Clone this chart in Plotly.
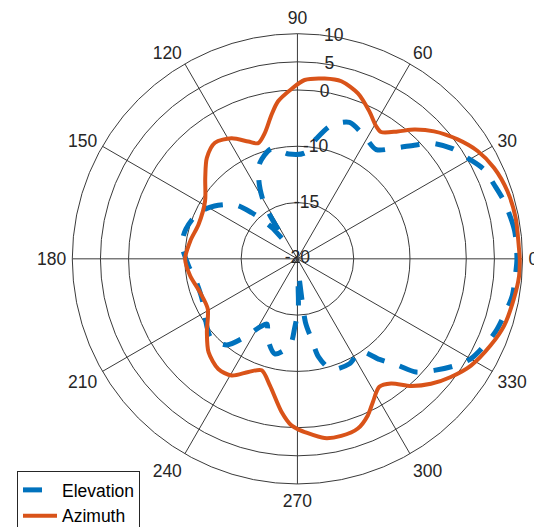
import plotly.graph_objects as go

# Elevation (blue dashed) : angle in degrees, value on the radial axis
elev_theta = [0, 7.5, 15.6, 20.7, 25.6, 30.7, 35.4, 40.9, 44.2, 48.8, 54.2, 61.3, 69.1, 75.8,
              81, 86, 94.7, 103.2, 111.4, 116.2, 120.6, 122.4, 125.5, 129, 132, 134.8, 138.9,
              147.5, 155, 165.1, 172.8, 183.7, 192.2, 203.8, 212.3, 222.6, 230.6, 236.3, 241.6,
              245, 249.4, 256.6, 265, 267.8, 271, 271.5, 274, 277.2, 280.2, 282.2, 287, 296.4,
              304.2, 309.2, 313.3, 316.3, 320.8, 325.5, 330, 335.4, 339.9, 344.6, 350.3, 356, 360]
elev_r = [9.0, 8.9, 8.1, 7.35, 6.76, 5.13, 3.8, 1.4, -1.04, -3.84, -6.07, -5.19, -4.05, -5.54,
          -8.37, -11.13, -11.3, -9.88, -11.7, -14.48, -18.07, -21.19, -26.0, -23.0, -20.5, -18.44, -15.45,
          -12.53, -10.6, -9.49, -9.31, -10.62, -11.54, -11.56, -10.58, -9.15, -10.21, -13.42, -16.32,
          -17.2, -14.94, -12.65, -14.55, -17.84, -21.38, -25.2, -27.0, -18.64, -15.26, -12.12, -9.45, -9.19,
          -10.09, -6.94, -4.0, -0.87, 1.36, 3.65, 5.54, 6.67, 7.52, 8.05, 8.73, 8.85, 9.0]

# Azimuth (orange solid)
azim_theta = [0, 2.9, 10.7, 17.9, 24.8, 30.9, 36.7, 43.0, 47.9, 51.8, 56.6, 59.3, 64.0, 69.9,
              76.1, 81.4, 87.7, 92.0, 97.0, 100.2, 104.5, 108.7, 112.7, 118.7, 125.4, 131.9, 138.7,
              148, 160.7, 170.5, 180, 189, 199, 209.2, 219, 226.4, 234.3, 240.6, 246.6, 252.2,
              257.7, 264.1, 267.9, 270.8, 272.4, 278.6, 283.9, 289.6, 294.2, 297.8, 302.6, 306.9,
              311.8, 316.9, 322.4, 328.4, 335.8, 342.1, 349.5, 355.6, 360]
azim_r = [9.5, 9.4, 9.45, 9.2, 8.5, 7.3, 5.5, 3.2, 0.95, -1.2, -3.0, -2.6, -0.85, 1.3,
          2.5, 2.4, 1.8, 0.2, -1.8, -4.0, -6.9, -8.3, -7.4, -5.6, -4.7, -5.9, -8.2,
          -10.65, -11.4, -10.7, -10.05, -10.7, -11.7, -11.75, -9.3, -7.1, -5.9, -6.2, -8.1, -9.2,
          -7.0, -2.65, -0.4, 0.44, 0.8, 2.2, 2.4, 2.0, 0.5, -1.25, -3.0, -2.3,
          0.3, 2.5, 4.4, 6.2, 7.6, 8.6, 9.1, 9.5, 9.5]

r_tickvals = [-30, -20, -10, 0, 5, 10]
r_ticktext = ["-20", "-15", "-10", "0", "5", "10"]
r_label_angle = 80.7
theta_ticks = list(range(0, 360, 30))

FONT = "Liberation Sans, Arial, sans-serif"
GRID = "#3a3a3a"
TXT = "#262626"
FS = 17.5

fig = go.Figure()
fig.add_trace(go.Scatterpolar(
    r=elev_r, theta=elev_theta, mode="lines", name="Elevation",
    line=dict(color="#0072BD", width=5, dash="19px,16px", shape="spline", smoothing=0.8),
))
fig.add_trace(go.Scatterpolar(
    r=azim_r, theta=azim_theta, mode="lines", name="Azimuth",
    line=dict(color="#D95319", width=4, shape="spline", smoothing=0.8),
))
# radial tick labels, centred on their rings (MATLAB style)
fig.add_trace(go.Scatterpolar(
    r=r_tickvals, theta=[r_label_angle] * len(r_tickvals), mode="text",
    text=r_ticktext, textposition="middle center", showlegend=False, hoverinfo="skip",
    textfont=dict(family=FONT, size=FS, color=TXT), cliponaxis=False,
))

fig.update_layout(
    width=542, height=527,
    margin=dict(l=0, r=0, t=0, b=0),
    paper_bgcolor="white",
    font=dict(family=FONT, size=FS, color=TXT),
    polar=dict(
        domain=dict(x=[0.108, 0.960], y=[0.074, 0.950]),
        bgcolor="white",
        radialaxis=dict(
            range=[-30, 10], tickvals=r_tickvals, showticklabels=False,
            angle=80, showline=False, ticks="", gridcolor=GRID, gridwidth=0.8,
        ),
        angularaxis=dict(
            rotation=0, direction="counterclockwise",
            tickvals=theta_ticks, ticktext=[str(t) for t in theta_ticks],
            gridcolor=GRID, gridwidth=0.8, showline=True, linecolor=GRID, linewidth=1,
            ticks="outside", ticklen=2, tickcolor="rgba(0,0,0,0)",
            tickfont=dict(family=FONT, size=FS, color=TXT),
        ),
    ),
    showlegend=True,
    legend=dict(
        x=9 / 542, y=(527 - 475) / 527, xanchor="left", yanchor="top",
        bordercolor="#262626", borderwidth=1, bgcolor="white", itemwidth=34,
        font=dict(family=FONT, size=FS, color="black"),
    ),
)

fig.write_html("out.html")
